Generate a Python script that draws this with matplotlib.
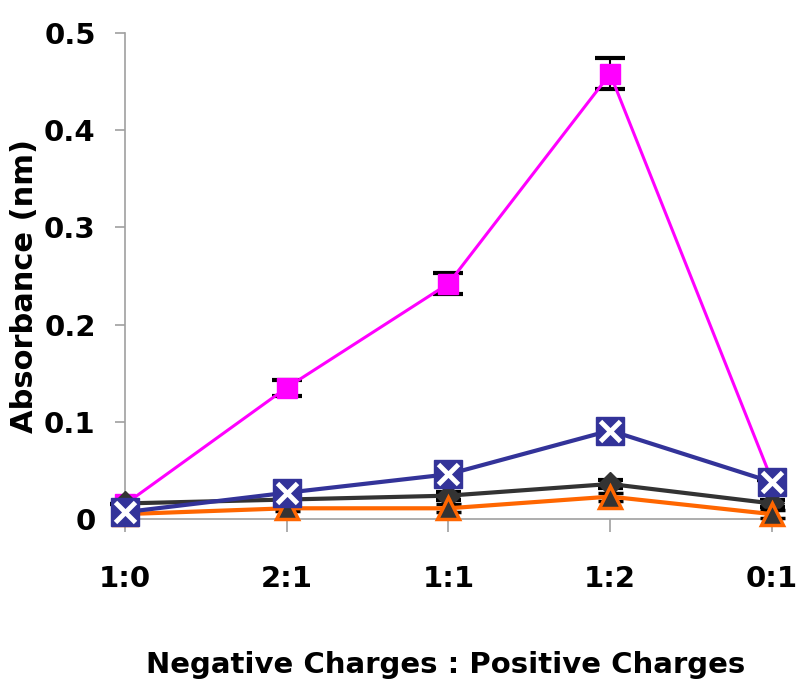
import matplotlib
matplotlib.use("Agg")
import matplotlib.pyplot as plt

categories = ["1:0", "2:1", "1:1", "1:2", "0:1"]
magenta = [0.015, 0.135, 0.242, 0.458, 0.040]
magenta_err = [0.0, 0.008, 0.011, 0.016, 0.0]
blue = [0.007, 0.027, 0.046, 0.091, 0.038]
gray = [0.016, 0.020, 0.024, 0.036, 0.016]
gray_err = [0.002, 0.003, 0.004, 0.004, 0.004]
orange = [0.005, 0.011, 0.011, 0.023, 0.005]
orange_err = [0.002, 0.003, 0.004, 0.004, 0.004]
yticks = [0, 0.1, 0.2, 0.3, 0.4, 0.5]
ytick_labels = ["0", "0.1", "0.2", "0.3", "0.4", "0.5"]

plt.rcParams['font.family'] = ['DejaVu Sans Condensed', 'DejaVu Sans']

fig = plt.figure(figsize=(8, 6.97), dpi=100)
ax = fig.add_axes([0.156, 0.2554, 0.823, 0.6973])
x = list(range(len(categories)))

ax.errorbar(x, magenta, yerr=magenta_err, color='#FF00FF', lw=2.2, marker='s', ms=15,
            mfc='#FF00FF', mec='#FF00FF', ecolor='black', elinewidth=1.5, capsize=11,
            capthick=3, zorder=3)
ax.errorbar(x, gray, yerr=gray_err, color='#333333', lw=3, marker='D', ms=12,
            mfc='#333333', mec='#333333', ecolor='black', elinewidth=1.5, capsize=9,
            capthick=3, zorder=4)
ax.errorbar(x, orange, yerr=orange_err, color='#FF6600', lw=3, marker='^', ms=16,
            mfc='#333333', mec='#FF6600', mew=2.5, ecolor='black', elinewidth=1.5,
            capsize=9, capthick=3, zorder=5)
ax.plot(x, blue, color='#333399', lw=3, marker='s', ms=20, mfc='#333399', mec='#333399',
        zorder=6)
ax.plot(x, blue, lw=0, marker='x', ms=15, mec='white', mew=3.5, zorder=7)

ax.set_xlim(0, 4.07)
ax.set_ylim(0, 0.5)
ax.set_xticks(x)
ax.set_xticklabels(categories)
ax.set_yticks(yticks)
ax.set_yticklabels(ytick_labels)
for s in ['top', 'right']:
    ax.spines[s].set_visible(False)
for s in ['left', 'bottom']:
    ax.spines[s].set_color('#A0A0A0')
    ax.spines[s].set_linewidth(1.2)
ax.tick_params(axis='y', direction='out', length=7, width=1.2, color='#A0A0A0', pad=14,
               labelsize=21)
ax.tick_params(axis='x', direction='out', length=9, width=1.2, color='#A0A0A0', pad=24,
               labelsize=21)
for lab in ax.get_xticklabels() + ax.get_yticklabels():
    lab.set_fontweight('bold')
ax.set_ylabel("Absorbance (nm)", fontsize=22, fontweight='bold')
ax.yaxis.set_label_coords(-0.152, 0.48)
ax.yaxis.label.set_va('center')
ax.set_xlabel("Negative Charges : Positive Charges", fontsize=21, fontweight='bold')
ax.xaxis.set_label_coords(0.488, -0.30)
ax.xaxis.label.set_va('center')
for art in ax.lines + ax.collections:
    art.set_clip_on(False)

fig.savefig("out.png", dpi=100, facecolor='white')
